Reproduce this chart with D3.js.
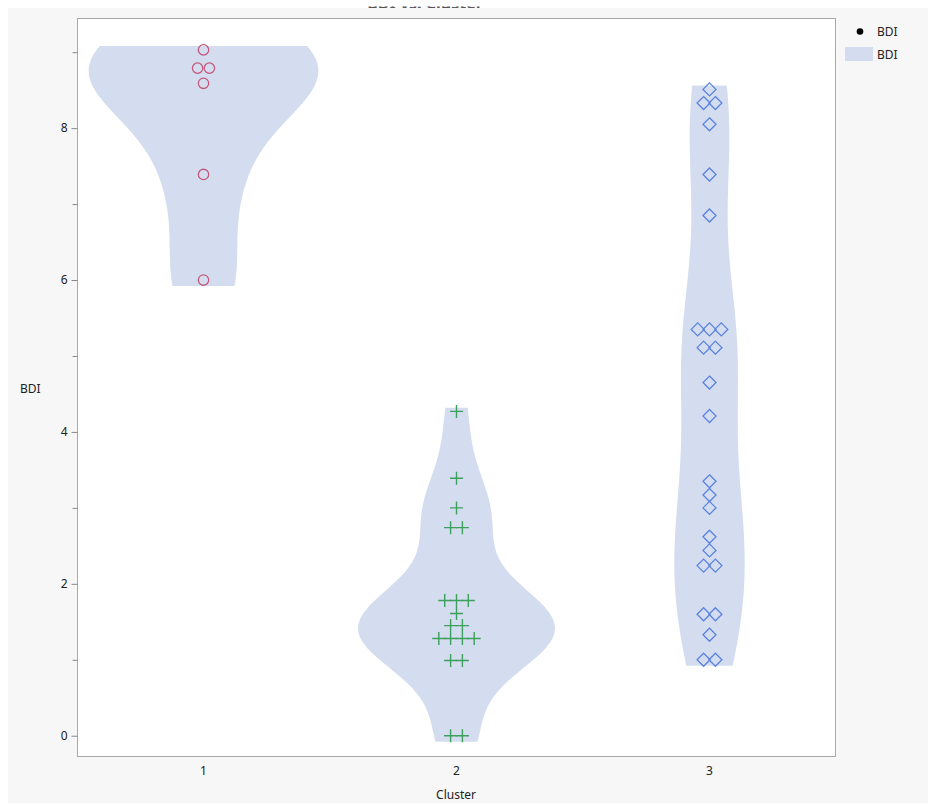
<!DOCTYPE html>
<html>
<head>
<meta charset="utf-8">
<script src="https://cdn.jsdelivr.net/npm/d3@7"></script>
<style>
  body { margin: 0; background: #ffffff; }
  text { font-family: "Noto Sans", "Open Sans", sans-serif; fill: #222; }
</style>
</head>
<body>
<div id="chart"></div>
<script>
// BDI by cluster, violins with the raw points on top
var clusters = ['1', '2', '3'];
var bdi1 = [9.03, 8.79, 8.79, 8.59, 7.39, 6.0];
var bdi2 = [4.27, 3.39, 3.0, 2.74, 2.74, 1.78, 1.78, 1.78, 1.61, 1.45, 1.45,
            1.28, 1.28, 1.28, 1.28, 0.99, 0.99, 0, 0];
var bdi3 = [8.51, 8.33, 8.33, 8.05, 7.39, 6.85, 5.35, 5.35, 5.35, 5.11, 5.11,
            4.65, 4.21, 3.35, 3.17, 3.0, 2.62, 2.44, 2.24, 2.24, 1.6, 1.6, 1.33, 1.0, 1.0];
var yTicks = [0, 2, 4, 6, 8];
var yMinorTicks = [1, 3, 5, 7, 9];
var bandwidths = [0.67, 0.48, 1.0];

var groups = [bdi1, bdi2, bdi3];

var svgWidth = 934, svgHeight = 805;
var frame = {left: 77, right: 836, top: 18, bottom: 757};

var svg = d3.select('#chart').append('svg')
  .attr('width', svgWidth)
  .attr('height', svgHeight);

// title, mostly cut off at the top like in the screenshot
var clip = svg.append('clipPath').attr('id', 'titleClip');
clip.append('rect').attr('x', 0).attr('y', 6.5).attr('width', svgWidth).attr('height', 10);
svg.append('text')
  .attr('x', 425).attr('y', 9)
  .attr('text-anchor', 'middle')
  .attr('clip-path', 'url(#titleClip)')
  .style('font-size', '16px').style('font-weight', 'bold').style('fill', '#555')
  .text('BDI vs. Cluster');

// gray panel
svg.append('rect')
  .attr('x', 8).attr('y', 8).attr('width', 920).attr('height', 795)
  .attr('fill', '#f7f7f7');

// plot area
svg.append('rect')
  .attr('x', frame.left).attr('y', frame.top)
  .attr('width', frame.right - frame.left).attr('height', frame.bottom - frame.top)
  .attr('fill', '#ffffff');

var x = d3.scaleBand().domain(clusters).range([frame.left, frame.right]);
var y = d3.scaleLinear().domain([-0.28, 9.45]).range([frame.bottom, frame.top]);

// normal cdf (Abramowitz-Stegun)
function phi(z) {
  var t = 1 / (1 + 0.2316419 * Math.abs(z));
  var p = 0.3989423 * Math.exp(-z * z / 2) *
    t * (0.3193815 + t * (-0.3565638 + t * (1.781478 + t * (-1.821256 + t * 1.330274))));
  return z > 0 ? 1 - p : p;
}

// kernel density, renormalised over the drawn range
function kde(values, h, lo, hi, grid) {
  var inside = d3.sum(values, function(d) { return phi((hi - d) / h) - phi((lo - d) / h); });
  var c = 1 / (h * Math.sqrt(2 * Math.PI) * inside);
  return grid.map(function(v) {
    var s = d3.sum(values, function(d) { var u = (v - d) / h; return Math.exp(-0.5 * u * u); });
    return [v, s * c];
  });
}

var widthScale = 200; // px per unit density
var padTop = 0.05, padBottom = 0.08;

groups.forEach(function(vals, i) {
  var lo = d3.min(vals) - padBottom, hi = d3.max(vals) + padTop;
  var grid = d3.range(0, 121).map(function(k) { return lo + (hi - lo) * k / 120; });
  var dens = kde(vals, bandwidths[i], lo, hi, grid);
  var cx = x(clusters[i]) + x.bandwidth() / 2;
  var area = d3.area()
    .x0(function(d) { return cx - widthScale * d[1]; })
    .x1(function(d) { return cx + widthScale * d[1]; })
    .y(function(d) { return y(d[0]); })
    .curve(d3.curveBasis);
  svg.append('path')
    .datum(dens)
    .attr('d', area)
    .attr('fill', '#d4ddef');
});

// points, spread sideways when values repeat
var spacing = 11.8;
function spread(vals) {
  var counts = d3.rollup(vals, function(v) { return v.length; }, function(d) { return d; });
  var seen = new Map();
  return vals.map(function(v) {
    var n = counts.get(v);
    var k = seen.get(v) || 0;
    seen.set(v, k + 1);
    return {v: v, off: (k - (n - 1) / 2) * spacing};
  });
}

var cx1 = x('1') + x.bandwidth() / 2;
svg.append('g').selectAll('circle')
  .data(spread(bdi1))
  .enter().append('circle')
  .attr('cx', function(d) { return cx1 + d.off; })
  .attr('cy', function(d) { return y(d.v); })
  .attr('r', 5.2)
  .attr('fill', 'none')
  .attr('stroke', '#c4587a')
  .attr('stroke-width', 1.3);

var cx2 = x('2') + x.bandwidth() / 2;
svg.append('g').selectAll('path')
  .data(spread(bdi2))
  .enter().append('path')
  .attr('transform', function(d) { return 'translate(' + (cx2 + d.off) + ',' + y(d.v) + ')'; })
  .attr('d', 'M-6.5,0H6.5M0,-6.5V6.5')
  .attr('stroke', '#3c9f5c')
  .attr('stroke-width', 1.4)
  .attr('fill', 'none');

var cx3 = x('3') + x.bandwidth() / 2;
svg.append('g').selectAll('path')
  .data(spread(bdi3))
  .enter().append('path')
  .attr('transform', function(d) { return 'translate(' + (cx3 + d.off) + ',' + y(d.v) + ')'; })
  .attr('d', 'M0,-6.5L6.5,0L0,6.5L-6.5,0Z')
  .attr('stroke', '#5b82e0')
  .attr('stroke-width', 1.3)
  .attr('fill', 'none');

// frame
svg.append('rect')
  .attr('x', frame.left + 0.5).attr('y', frame.top + 0.5)
  .attr('width', frame.right - frame.left - 1).attr('height', frame.bottom - frame.top - 1)
  .attr('fill', 'none').attr('stroke', '#a8a8a8');

// y axis
var yAxis = svg.append('g')
  .attr('transform', 'translate(' + (frame.left + 0.5) + ',0)')
  .call(d3.axisLeft(y).tickValues(yTicks).tickSize(6).tickPadding(4));
svg.append('g')
  .attr('transform', 'translate(' + (frame.left + 0.5) + ',0)')
  .call(d3.axisLeft(y).tickValues(yMinorTicks).tickSize(5).tickFormat(''));
svg.selectAll('.domain').remove();
svg.selectAll('.tick line').attr('stroke', '#888');
yAxis.selectAll('text').style('font-size', '12px').style('fill', '#222')
  .attr('font-family', null);

svg.append('text')
  .attr('x', 20).attr('y', 393)
  .style('font-size', '12px')
  .text('BDI');

// x axis labels
var xAxis = svg.append('g')
  .attr('transform', 'translate(0,' + frame.bottom + ')')
  .call(d3.axisBottom(x).tickSize(0).tickPadding(9));
xAxis.select('.domain').remove();
xAxis.selectAll('text').style('font-size', '12px').style('fill', '#222')
  .attr('font-family', null);

svg.append('text')
  .attr('x', 456).attr('y', 799)
  .attr('text-anchor', 'middle')
  .style('font-size', '12px')
  .text('Cluster');

// legend
svg.append('circle').attr('cx', 860).attr('cy', 31.5).attr('r', 3.3).attr('fill', '#000');
svg.append('text').attr('x', 877).attr('y', 36).style('font-size', '12px').text('BDI');
svg.append('rect').attr('x', 845).attr('y', 47).attr('width', 28).attr('height', 14).attr('fill', '#d4ddef');
svg.append('text').attr('x', 877).attr('y', 59).style('font-size', '12px').text('BDI');
</script>
</body>
</html>
